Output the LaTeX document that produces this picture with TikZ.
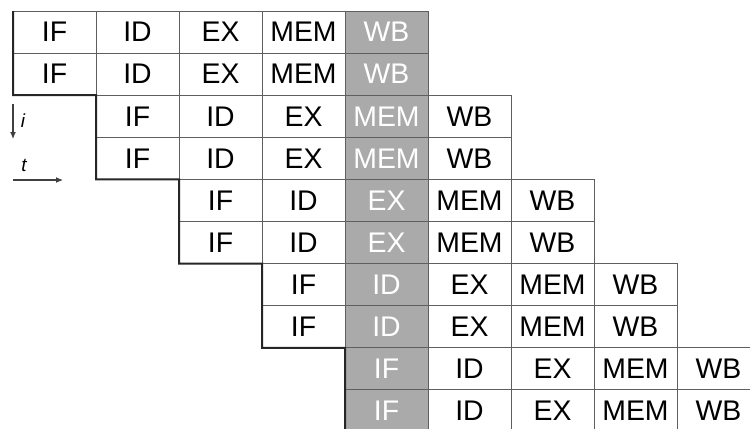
\documentclass[tikz,border=0pt]{standalone}
\usepackage{fontspec}
\setmainfont{Liberation Sans}
\usetikzlibrary{arrows.meta}
\definecolor{shade}{RGB}{170,170,170}
\definecolor{gridline}{RGB}{95,95,95}
\begin{document}
\begin{tikzpicture}[x=1bp,y=-1bp,
  cell/.style={draw=gridline, line width=0.9bp, minimum width=83bp, minimum height=42.1bp,
    inner sep=0pt, outer sep=0pt, anchor=north west, font=\fontsize{28.5}{28.5}\selectfont},
  outline/.style={draw=black!85, line width=2bp, line join=miter},
  axis/.style={draw=black!75, line width=1.1bp, -{Latex[length=7bp,width=6bp]}},
  axislabel/.style={font=\fontsize{19}{19}\selectfont\itshape, inner sep=0pt}]
\useasboundingbox (0,0) rectangle (750,428);
\clip (0,0) rectangle (750,428);
\foreach \p in {0,...,4} {
  \foreach \lab [count=\k from 0] in {IF,ID,EX,MEM,WB} {
    \pgfmathtruncatemacro\c{\p+\k}
    \pgfmathtruncatemacro\ra{2*\p}
    \pgfmathtruncatemacro\rb{2*\p+1}
    \ifnum\c=4 \def\fc{shade}\def\tc{white}\else\def\fc{white}\def\tc{black}\fi
    \node[cell, fill=\fc, text=\tc] (c-\ra-\c) at ({13+83*\c},{11+42.1*\ra}) {\lab};
    \node[cell, fill=\fc, text=\tc] (c-\rb-\c) at ({13+83*\c},{11+42.1*\rb}) {\lab};
  }
}
\draw[outline] (c-0-0.north west) -- (c-1-0.south west) -- (c-2-1.north west)
  -- (c-3-1.south west) -- (c-4-2.north west) -- (c-5-2.south west) -- (c-6-3.north west)
  -- (c-7-3.south west) -- (c-8-4.north west) -- (c-9-4.south west);
\coordinate (ia) at (13,104);
\coordinate (ib) at (13,139);
\draw[axis] (ia) -- (ib);
\node[axislabel] (il) at (23,121) {i};
\coordinate (ta) at (13,180);
\coordinate (tb) at (63,180);
\draw[axis] (ta) -- (tb);
\node[axislabel] (tl) at (24,165) {t};
\end{tikzpicture}
\end{document}
